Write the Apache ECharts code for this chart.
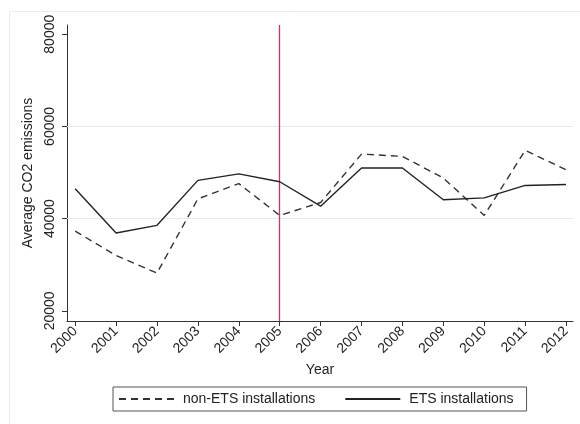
<!DOCTYPE html>
<html>
<head>
<meta charset="utf-8">
<script src="https://cdn.jsdelivr.net/npm/echarts@6/dist/echarts.min.js"></script>
<style>
  html, body { margin: 0; padding: 0; background: #ffffff; }
  #chart { width: 580px; height: 424px; }
</style>
</head>
<body>
<div id="chart"></div>
<script>
// Years on the horizontal axis
const years = [2000, 2001, 2002, 2003, 2004, 2005, 2006, 2007, 2008, 2009, 2010, 2011, 2012];
// Average CO2 emissions per installation
const nonEts = [37300, 32000, 28200, 44300, 47600, 40700, 43500, 54000, 53500, 48800, 40700, 54800, 50600];
const ets = [46500, 36900, 38550, 48300, 49700, 48000, 42700, 51000, 51000, 44100, 44500, 47200, 47400];
// Tick labels on the vertical axis
const yTicks = [20000, 40000, 60000, 80000];
// Interior reference lines and the policy start year
const gridValues = [40000, 60000];
const policyYear = 2005;

const font = 'Liberation Sans, Arial, sans-serif';
const chart = echarts.init(document.getElementById('chart'), null, { renderer: 'canvas' });

const pair = (arr) => years.map((y, i) => [y, arr[i]]);

chart.setOption({
  animation: false,
  backgroundColor: '#ffffff',
  graphic: [{
    type: 'rect',
    shape: { x: 9.5, y: 11.5, width: 600, height: 430 },
    style: { fill: 'none', stroke: '#e4edf1', lineWidth: 1 },
    silent: true,
    z: -1
  }],
  grid: { left: 67, right: 7, top: 25, bottom: 103 },
  legend: {
    data: ['non-ETS installations', 'ETS installations'],
    left: 113,
    top: 387,
    itemWidth: 55,
    itemHeight: 12,
    itemGap: 29,
    padding: [5, 13, 5, 5],
    borderColor: '#555',
    borderWidth: 1,
    borderRadius: 0,
    itemStyle: { opacity: 0 },
    textStyle: { fontFamily: font, fontSize: 14, color: '#222', padding: [0, 0, 0, 4] }
  },
  xAxis: {
    type: 'value',
    min: 1999.8,
    max: 2012.17,
    name: 'Year',
    nameLocation: 'middle',
    nameGap: 42,
    nameTextStyle: { fontFamily: font, fontSize: 14, color: '#222' },
    axisLine: { show: true, onZero: false, lineStyle: { color: '#333', width: 1 } },
    axisTick: { show: true, customValues: years, length: 5, lineStyle: { color: '#333' } },
    axisLabel: {
      customValues: years,
      rotate: 45,
      margin: 8,
      fontFamily: font,
      fontSize: 14,
      color: '#222',
      formatter: (v) => String(v)
    },
    splitLine: { show: false }
  },
  yAxis: {
    type: 'value',
    min: 17800,
    max: 82000,
    name: 'Average CO2 emissions',
    nameLocation: 'middle',
    nameGap: 21,
    nameRotate: 90,
    nameTextStyle: { fontFamily: font, fontSize: 14, color: '#222' },
    axisLine: { show: true, onZero: false, lineStyle: { color: '#333', width: 1 } },
    axisTick: { show: true, customValues: yTicks, length: 5, lineStyle: { color: '#333' } },
    axisLabel: {
      customValues: yTicks,
      rotate: 90,
      margin: 10,
      fontFamily: font,
      fontSize: 14,
      color: '#222',
      formatter: (v) => String(v)
    },
    splitLine: { show: false }
  },
  series: [
    {
      name: 'non-ETS installations',
      type: 'line',
      data: pair(nonEts),
      symbol: 'none',
      lineStyle: { color: '#333', width: 1.4, type: [7, 5] },
      itemStyle: { color: '#333' },
      z: 3
    },
    {
      name: 'ETS installations',
      type: 'line',
      data: pair(ets),
      symbol: 'none',
      lineStyle: { color: '#222', width: 1.4, type: 'solid' },
      itemStyle: { color: '#222' },
      z: 3,
      markLine: {
        silent: true,
        symbol: 'none',
        label: { show: false },
        data: [
          ...gridValues.map(v => ({ yAxis: v, lineStyle: { color: '#e2ebee', width: 1, type: 'solid' } })),
          { xAxis: policyYear, lineStyle: { color: '#c43a62', width: 1.3, type: 'solid' } }
        ],
        z: 1
      }
    }
  ]
});
</script>
</body>
</html>
